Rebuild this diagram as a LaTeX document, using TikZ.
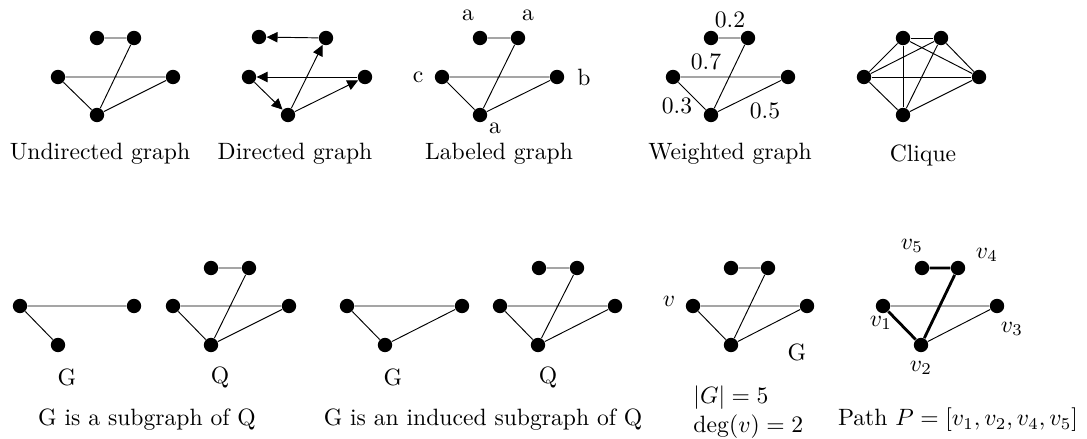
\documentclass[tikz,border=0pt]{standalone}
\usepackage{amsmath}
\usetikzlibrary{arrows.meta}

\begin{document}
\begin{tikzpicture}[
  x=0.4237pt, y=-0.4237pt,
  vtx/.style={circle, fill=black, inner sep=0pt, minimum size=6.1pt},
  arr/.style={-{Triangle[length=4.6pt, width=4.4pt]}},
  pathedge/.style={line width=1.2pt}
]
\useasboundingbox (0,0) rectangle (1087,439);

% undirected graph
\node[vtx] (u1) at (97,38) {};
\node[vtx] (u2) at (134,38) {};
\node[vtx] (u3) at (58,77) {};
\node[vtx] (u4) at (173,77) {};
\node[vtx] (u5) at (97,115) {};
\draw (u1) -- (u2) (u2) -- (u5) (u3) -- (u4) (u3) -- (u5) (u5) -- (u4);
\node (ucap) at (100,154) {Undirected graph};

% directed graph
\node[vtx] (d1) at (259,37) {};
\node[vtx] (d2) at (326,38) {};
\node[vtx] (d3) at (249,77) {};
\node[vtx] (d4) at (365,77) {};
\node[vtx] (d5) at (288,115) {};
\draw[arr] (d2) -- (d1);
\draw[arr] (d4) -- (d3);
\draw[arr] (d3) -- (d5);
\draw[arr] (d5) -- (d4);
\draw[arr] (d5) -- (d2);
\node (dcap) at (295,154) {Directed graph};

% labeled graph
\node[vtx] (l1) at (480,38) {};
\node[vtx] (l2) at (518,38) {};
\node[vtx] (l3) at (442,77) {};
\node[vtx] (l4) at (557,77) {};
\node[vtx] (l5) at (480,115) {};
\draw (l1) -- (l2) (l2) -- (l5) (l3) -- (l4) (l3) -- (l5) (l5) -- (l4);
\node (la1) at (468,15) {a};
\node (la2) at (528,15) {a};
\node (lc) at (418,77) {c};
\node (lb) at (584,77) {b};
\node (la5) at (495,128) {a};
\node (lcap) at (499,154) {Labeled graph};

% weighted graph
\node[vtx] (w1) at (711,38) {};
\node[vtx] (w2) at (748,38) {};
\node[vtx] (w3) at (673,77) {};
\node[vtx] (w4) at (788,77) {};
\node[vtx] (w5) at (711,115) {};
\draw (w1) -- (w2) (w2) -- (w5) (w3) -- (w4) (w3) -- (w5) (w5) -- (w4);
\node (wt12) at (730,20) {0.2};
\node (wt34) at (706,62) {0.7};
\node (wt35) at (677,106) {0.3};
\node (wt54) at (765,111) {0.5};
\node (wcap) at (730,154) {Weighted graph};

% clique
\node[vtx] (c1) at (903,38) {};
\node[vtx] (c2) at (941,38) {};
\node[vtx] (c3) at (864,77) {};
\node[vtx] (c4) at (979,77) {};
\node[vtx] (c5) at (903,115) {};
\foreach \a/\b in {1/2,1/3,1/4,1/5,2/3,2/4,2/5,3/4,3/5,4/5}
  \draw (c\a) -- (c\b);
\node (ccap) at (923,155) {Clique};

% subgraph
\node[vtx] (sg1) at (20,306) {};
\node[vtx] (sg2) at (134,306) {};
\node[vtx] (sg3) at (58,345) {};
\draw (sg1) -- (sg2) (sg1) -- (sg3);
\node (sgname) at (67,377) {G};
\node[vtx] (sq1) at (211,268) {};
\node[vtx] (sq2) at (249,268) {};
\node[vtx] (sq3) at (173,306) {};
\node[vtx] (sq4) at (289,306) {};
\node[vtx] (sq5) at (211,345) {};
\draw (sq1) -- (sq2) (sq2) -- (sq5) (sq3) -- (sq4) (sq3) -- (sq5) (sq5) -- (sq4);
\node (sqname) at (220,377) {Q};
\node (scap) at (147,420) {G is a subgraph of Q};

% induced subgraph
\node[vtx] (ig1) at (347,306) {};
\node[vtx] (ig2) at (462,306) {};
\node[vtx] (ig3) at (385,345) {};
\draw (ig1) -- (ig2) (ig1) -- (ig3) (ig3) -- (ig2);
\node (igname) at (393,377) {G};
\node[vtx] (iq1) at (539,268) {};
\node[vtx] (iq2) at (577,268) {};
\node[vtx] (iq3) at (500,306) {};
\node[vtx] (iq4) at (615,306) {};
\node[vtx] (iq5) at (538,345) {};
\draw (iq1) -- (iq2) (iq2) -- (iq5) (iq3) -- (iq4) (iq3) -- (iq5) (iq5) -- (iq4);
\node (iqname) at (548,377) {Q};
\node (icap) at (483,420) {G is an induced subgraph of Q};

% order and degree
\node[vtx] (g1) at (731,268) {};
\node[vtx] (g2) at (768,268) {};
\node[vtx] (g3) at (693,306) {};
\node[vtx] (g4) at (807,306) {};
\node[vtx] (g5) at (731,345) {};
\draw (g1) -- (g2) (g2) -- (g5) (g3) -- (g4) (g3) -- (g5) (g5) -- (g4);
\node (gv) at (669,301) {$v$};
\node (gname) at (797,352) {G};
\node[align=left, anchor=west, inner sep=0pt] (gcap) at (693,412)
  {$|G| = 5$\\$\deg(v) = 2$};

% path
\node[vtx] (p5) at (922,268) {};
\node[vtx] (p4) at (958,268) {};
\node[vtx] (p1) at (883,306) {};
\node[vtx] (p3) at (997,306) {};
\node[vtx] (p2) at (921,345) {};
\draw (p1) -- (p3) (p2) -- (p3);
\draw[pathedge] (p5) -- (p4) -- (p2) -- (p1);
\node (pv5) at (912,246) {$v_5$};
\node (pv4) at (987,255) {$v_4$};
\node (pv1) at (881,323) {$v_1$};
\node (pv3) at (1012,329) {$v_3$};
\node (pv2) at (921,368) {$v_2$};
\node (pcap) at (958,420) {Path $P = [v_1, v_2, v_4, v_5]$};
\end{tikzpicture}
\end{document}
